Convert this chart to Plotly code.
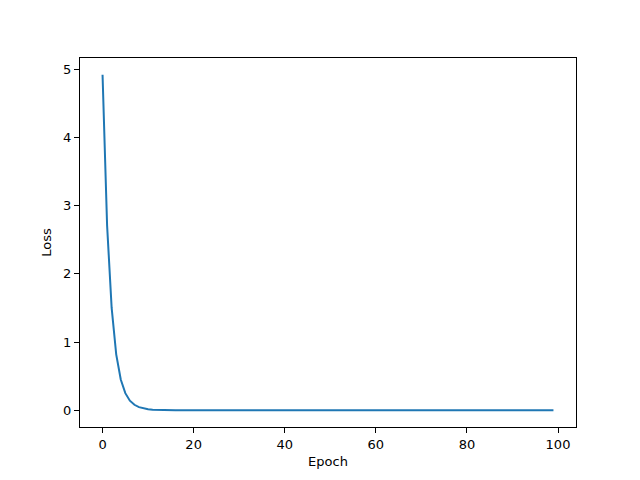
import plotly.graph_objects as go

epochs = list(range(100))
loss = [4.92, 2.71, 1.50, 0.82, 0.45, 0.25, 0.14, 0.08, 0.045, 0.025,
        0.014, 0.008, 0.005, 0.003, 0.002, 0.001] + [0.0005] * 84

fig = go.Figure()
fig.add_trace(go.Scatter(x=epochs, y=loss, mode="lines",
                         line=dict(color="#1f77b4", width=2)))

axis_common = dict(showgrid=False, zeroline=False, showline=True, mirror=True,
                   linecolor="black", linewidth=1, ticks="outside", ticklen=5,
                   tickwidth=1, tickcolor="black",
                   tickfont=dict(family="DejaVu Sans", size=13, color="black"),
                   title_font=dict(family="DejaVu Sans", size=13, color="black"))

fig.update_xaxes(range=[-4.95, 103.95], tickvals=[0, 20, 40, 60, 80, 100],
                 title_text="Epoch", title_standoff=6, **axis_common)
fig.update_yaxes(range=[-0.246, 5.166], tickvals=[0, 1, 2, 3, 4, 5],
                 title_text="Loss", title_standoff=8, **axis_common)

fig.update_layout(width=640, height=480, plot_bgcolor="white", paper_bgcolor="white",
                  margin=dict(l=72, r=72, t=50, b=61), showlegend=False)

fig.write_html("out.html")
